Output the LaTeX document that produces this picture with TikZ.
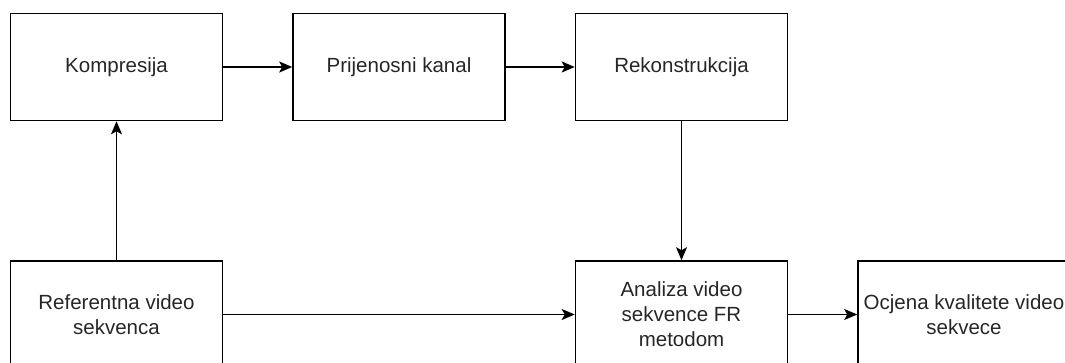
\documentclass[tikz,border=0pt]{standalone}
\usepackage{fontspec}
\setmainfont{Liberation Sans}
\usetikzlibrary{arrows.meta}
\begin{document}
\begin{tikzpicture}[x=1pt,y=-1pt,
  blk/.style={draw=black,line width=1.6pt,minimum width=212pt,minimum height=107pt,inner sep=0pt,align=center,
    font=\fontsize{20.5}{25}\selectfont,text=black!85},
  conn/.style={draw=black,line width=1.6pt,-{Stealth[length=13pt,width=11pt,inset=3pt]}}]
\useasboundingbox (0,0) rectangle (1065,362);
\begin{scope}
\clip (0,0) rectangle (1065,362);
\node[blk] (komp) at (116.5,67) {Kompresija};
\node[blk] (kanal) at (399,67) {Prijenosni kanal};
\node[blk] (rek) at (681.5,67) {Rekonstrukcija};
\node[blk] (ref) at (116.5,314.5) {Referentna video\\sekvenca};
\node[blk] (anal) at (681.5,314.5) {Analiza video\\sekvence FR\\metodom};
\node[blk] (ocj) at (964,314.5) {Ocjena kvalitete video\\sekvece};
\draw[conn] (komp) -- (kanal);
\draw[conn] (kanal) -- (rek);
\draw[conn] (ref) -- (komp);
\draw[conn] (rek) -- (anal);
\draw[conn] (ref) -- (anal);
\draw[conn] (anal) -- (ocj);
\end{scope}
\end{tikzpicture}
\end{document}
